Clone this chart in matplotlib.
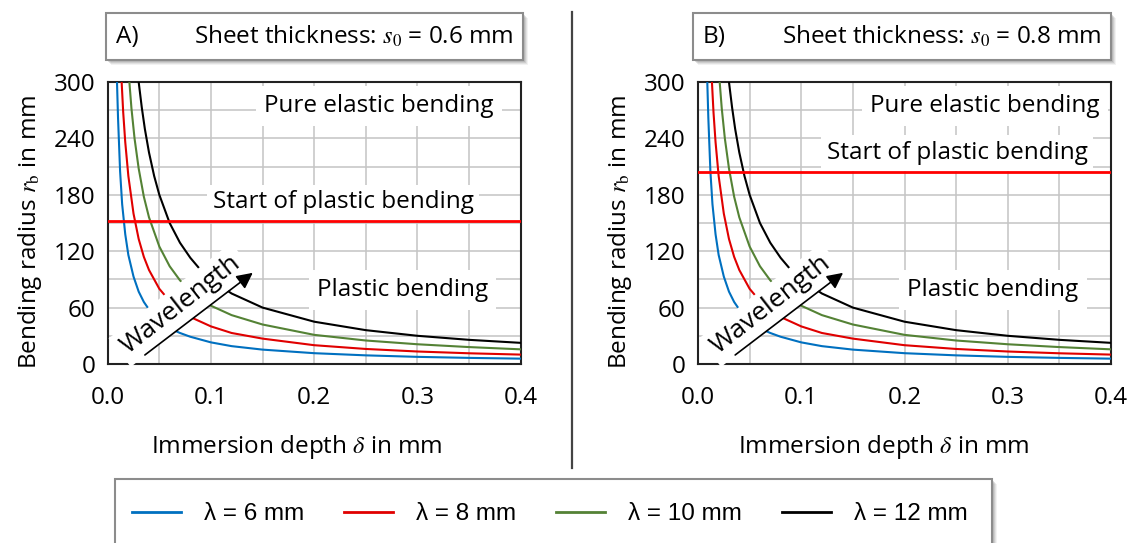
"""
Bending radius vs immersion depth for two sheet thicknesses.
"""
import matplotlib
matplotlib.use('Agg')
import matplotlib.pyplot as plt
from matplotlib.lines import Line2D
from matplotlib.patches import Rectangle

plt.rcParams['font.family'] = ['Open Sans', 'DejaVu Sans']
plt.rcParams['mathtext.fontset'] = 'stix'

W, H = 1139, 543
FS = 17.5

# curve data (same curves in both panels)
lambdas = [6, 8, 10, 12]
colors = ['#0070C0', '#E00000', '#548235', '#000000']

d_6 = [0.009, 0.010, 0.012, 0.014, 0.017, 0.02, 0.025, 0.03, 0.035, 0.04, 0.05,
       0.06, 0.07, 0.08, 0.1, 0.12, 0.15, 0.2, 0.25, 0.3, 0.35, 0.4]
r_6 = [300, 262, 205, 170, 138, 116, 93, 77, 66, 58, 46,
       38, 33, 29, 23, 19, 15.3, 11.5, 9.2, 7.6, 6.5, 5.7]

d_8 = [0.0135, 0.015, 0.017, 0.02, 0.025, 0.03, 0.035, 0.04, 0.05, 0.06, 0.07,
       0.08, 0.1, 0.12, 0.15, 0.2, 0.25, 0.3, 0.35, 0.4]
r_8 = [300, 268, 236, 200, 160, 133, 114, 100, 80, 67, 57,
       50, 40, 33, 27, 20, 16, 13.3, 11.4, 10]

d_10 = [0.021, 0.023, 0.026, 0.03, 0.035, 0.04, 0.05, 0.06, 0.07, 0.08, 0.1,
        0.12, 0.15, 0.2, 0.25, 0.3, 0.35, 0.4]
r_10 = [300, 272, 240, 208, 178, 156, 125, 104, 89, 78, 62,
        52, 42, 31, 25, 21, 18, 15.6]

d_12 = [0.03, 0.033, 0.036, 0.04, 0.045, 0.05, 0.06, 0.07, 0.08, 0.09, 0.1,
        0.12, 0.15, 0.2, 0.25, 0.3, 0.35, 0.4]
r_12 = [300, 273, 250, 225, 200, 180, 150, 129, 113, 100, 90,
        75, 60, 45, 36, 30, 25.7, 22.5]

curves = [(d_6, r_6), (d_8, r_8), (d_10, r_10), (d_12, r_12)]

panels = ['A)', 'B)']
thickness = [0.6, 0.8]
plastic_start = [152, 204]      # r_b where plastic bending starts
start_label_y = [172, 224.5]

x_ticks = [0.0, 0.1, 0.2, 0.3, 0.4]
y_ticks = [0, 60, 120, 180, 240, 300]


def px(x, y):
    return x / W, 1 - y / H


def shadow_box(fig, x0, y0, x1, y1):
    # soft grey shadow on right / bottom, then white box with grey border
    for off, a in [(5, 0.10), (4, 0.15), (3, 0.2), (2, 0.25)]:
        fig.add_artist(Rectangle(px(x0 + off, y1 + off), (x1 - x0) / W, (y1 - y0) / H,
                                 transform=fig.transFigure, facecolor='#808080',
                                 edgecolor='none', alpha=a, zorder=1))
    fig.add_artist(Rectangle(px(x0, y1), (x1 - x0) / W, (y1 - y0) / H,
                             transform=fig.transFigure, facecolor='white',
                             edgecolor='#8c8c8c', linewidth=1.5, zorder=2))


fig = plt.figure(figsize=(W / 100, H / 100), dpi=100)

ax_left = [107.7, 698.0]
box_x = [(106, 523), (693, 1111)]
white = dict(facecolor='white', edgecolor='none', pad=3)

for i in range(2):
    l, b = px(ax_left[i], 364)
    ax = fig.add_axes([l, b, 413 / W, 282 / H])

    for (d, r), c in zip(curves, colors):
        ax.plot(d, r, color=c, linewidth=1.5, zorder=3)

    ax.axhline(plastic_start[i], color='#FF0000', linewidth=2, zorder=3)

    ax.set_xlim(0, 0.4)
    ax.set_ylim(0, 300)
    ax.set_xticks(x_ticks)
    ax.set_xticklabels([f'{t:.1f}' for t in x_ticks])
    ax.set_xticks([0.05, 0.15, 0.25, 0.35], minor=True)
    ax.set_yticks(y_ticks)
    ax.set_yticks([30, 90, 150, 210, 270], minor=True)
    ax.tick_params(which='both', length=0, labelsize=FS)
    ax.tick_params(axis='x', pad=16)
    ax.tick_params(axis='y', pad=9)
    ax.grid(True, which='both', color='#c4c4c4', linewidth=1.1)
    ax.set_axisbelow(True)
    for sp in ax.spines.values():
        sp.set_linewidth(1.5)
        sp.set_color('#222222')

    ax.set_ylabel(r'Bending radius $r_\mathrm{b}$ in mm', fontsize=FS)
    ax.yaxis.set_label_coords(-0.155, 0.47)

    # region labels
    ax.text(0.263 if i == 0 else 0.278, 274.5, 'Pure elastic bending', fontsize=FS,
            ha='center', va='center', bbox=dict(white, pad=6), zorder=4)
    ax.text(0.228 if i == 0 else 0.251, start_label_y[i], 'Start of plastic bending',
            fontsize=FS, ha='center', va='center', bbox=dict(white, pad=4), zorder=4)
    ax.text(0.2855, 78.7, 'Plastic bending', fontsize=FS,
            ha='center', va='center', bbox=dict(white, pad=6), zorder=4)

    # wavelength arrow
    ax.text(0.071, 63, 'Wavelength', fontsize=FS + 1.5, rotation=38,
            rotation_mode='anchor', ha='center', va='center',
            bbox=dict(white, pad=4), zorder=5)
    ax.annotate('', xy=(0.1405, 97), xytext=(0.036, 9.6),
                arrowprops=dict(arrowstyle='-|>', mutation_scale=24, lw=1.2,
                                color='black', shrinkA=0, shrinkB=0), zorder=6)

    # x label
    cx = (box_x[i][0] + box_x[i][1]) / 2 - 18
    fig.text(*px(cx, 447), r'Immersion depth $\delta$ in mm', fontsize=FS,
             ha='center', va='center')

    # panel title box
    x0, x1 = box_x[i]
    shadow_box(fig, x0, 13, x1, 60)
    fig.text(*px(x0 + 10, 37), panels[i], fontsize=FS, ha='left', va='center', zorder=3)
    fig.text(*px(x1 - 9, 37), f'Sheet thickness: $s_0$ = {thickness[i]} mm',
             fontsize=FS, ha='right', va='center', zorder=3)

# separator
fig.add_artist(Line2D([571.7 / W] * 2, [1 - 12 / H, 1 - 468 / H],
                      color='#444444', linewidth=1.6))

# legend box
shadow_box(fig, 115, 479, 992, 560)
handles = [Line2D([], [], color=c, linewidth=2) for c in colors]
labels = [f'λ = {v} mm' for v in lambdas]
leg = fig.legend(handles, labels, ncol=4, loc='center',
                 bbox_to_anchor=px(550, 514), frameon=False,
                 prop={'family': ['Liberation Sans Narrow', 'Liberation Sans', 'DejaVu Sans'],
                       'size': 17.5},
                 handlelength=2.0, handletextpad=0.95, columnspacing=1.65)
leg.set_zorder(5)

fig.savefig('out.png', dpi=100)
